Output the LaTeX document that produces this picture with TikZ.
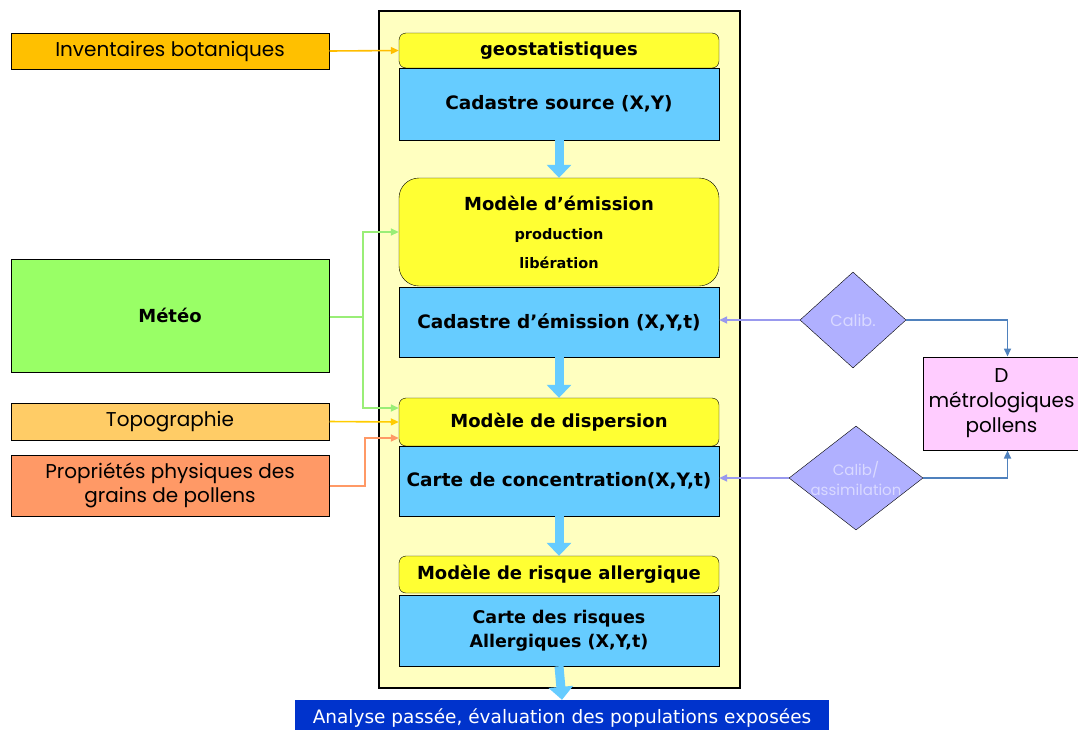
\documentclass[tikz,border=0pt]{standalone}
\usepackage{fontspec}
\setmainfont{DejaVu Sans}
\newfontfamily\geo{Poppins}
\usetikzlibrary{arrows.meta,shapes.geometric,calc}
\definecolor{panelY}{HTML}{FFFFC0}
\definecolor{modY}{HTML}{FFFF33}
\definecolor{cadB}{HTML}{66CCFF}
\definecolor{invO}{HTML}{FFC000}
\definecolor{meteoG}{HTML}{99FF66}
\definecolor{topoO}{HTML}{FFCC66}
\definecolor{propO}{HTML}{FF9966}
\definecolor{diaB}{HTML}{B0B0FF}
\definecolor{pinkB}{HTML}{FFCCFF}
\definecolor{anaB}{HTML}{0033CC}
\definecolor{lineG}{HTML}{99EE77}
\definecolor{lineY}{HTML}{FFCC00}
\definecolor{lineS}{HTML}{FF9966}
\definecolor{lineL}{HTML}{9999EE}
\definecolor{lineSB}{HTML}{4F81BD}
\tikzset{
  modbox/.style={draw=black, fill=modY, rounded corners=7pt, minimum width=320pt, font=\bfseries\fontsize{18}{21}\selectfont, inner sep=0pt, align=center},
  cadbox/.style={draw=black, fill=cadB, minimum width=320pt, font=\bfseries\fontsize{18.5}{24}\selectfont, inner sep=0pt, align=center},
  inbox/.style={draw=black, line width=1pt, minimum width=318pt, font=\geo\fontsize{20}{24}\selectfont, inner sep=0pt, align=center},
  diam/.style={diamond, draw=black, fill=diaB, inner sep=0pt},
  diamtext/.style={inner sep=0pt, align=center, text=white!85!blue},
  bigarrow/.style={draw=cadB, line width=9pt, -{Triangle[width=24pt,length=13pt]}},
  thin/.style={line width=1.6pt, -{Triangle[width=7pt,length=8pt]}},
}
\begin{document}
\begin{tikzpicture}[x=1pt,y=-1pt]
\useasboundingbox (0,0) rectangle (1078,729);
\node[draw=black, line width=1.2pt, fill=panelY, minimum width=361pt, minimum height=677pt, inner sep=0pt] (panel) at (559.5,349.5) {};
% inner chain
\node[modbox, minimum height=35pt] (geo) at (559,50.5) {geostatistiques};
\node[cadbox, minimum height=72pt] (cs) at (559,104) {Cadastre source (X,Y)};
\node[modbox, rounded corners=20pt, minimum height=108pt, font=\bfseries\fontsize{18}{29}\selectfont] (me) at (559,232) {Modèle d’émission\\{\fontsize{14.5}{29}\selectfont production}\\{\fontsize{14.5}{27}\selectfont libération}};
\node[cadbox, minimum height=70pt] (ce) at (559,322) {Cadastre d’émission (X,Y,t)};
\node[modbox, minimum height=48pt] (md) at (559,422) {Modèle de dispersion};
\node[cadbox, minimum height=70pt] (cc) at (559,481) {Carte de concentration(X,Y,t)};
\node[modbox, minimum height=37pt] (mr) at (559,574.5) {Modèle de risque allergique};
\node[cadbox, minimum height=71pt, font=\bfseries\fontsize{17.5}{24}\selectfont] (cr) at (559,630.5) {Carte des risques\\Allergiques (X,Y,t)};
\node[fill=anaB, minimum width=534pt, minimum height=36pt, inner sep=0pt, text=white, font=\fontsize{18.5}{20}\selectfont] (an) at (562,718) {Analyse passée, évaluation des populations exposées};
% inputs
\node[inbox, fill=invO, minimum height=36pt] (inv) at (170,51) {Inventaires botaniques};
\node[inbox, fill=meteoG, minimum height=113pt, font=\bfseries\fontsize{18}{21}\selectfont] (meteo) at (170,315.5) {Météo};
\node[inbox, fill=topoO, minimum height=37pt] (topo) at (170,421.5) {Topographie};
\node[inbox, fill=propO, minimum height=61pt] (prop) at (170,485.5) {Propriétés physiques des\\grains de pollens};
% right side
\node[diam, minimum width=106pt, minimum height=96pt] (calib) at (853,320) {};
\node[diamtext, font=\geo\fontsize{16}{18}\selectfont] (calibt) at (calib) {Calib.};
\node[diam, minimum width=134pt, minimum height=104pt] (calass) at (856,478) {};
\node[diamtext, font=\geo\fontsize{15}{20}\selectfont] (calasst) at (calass) {Calib/\\assimilation};
\node[draw=black, line width=1pt, fill=pinkB, minimum width=157pt, minimum height=93pt, inner sep=0pt, align=center, font=\geo\fontsize{20}{25}\selectfont] (dm) at (1001.5,403.5) {D\\métrologiques\\pollens};
% big arrows
\draw[bigarrow] (cs.south) -- (me.north);
\draw[bigarrow] (ce.south) -- (md.north);
\draw[bigarrow] (cc.south) -- (mr.north);
\draw[bigarrow] (cr.south) -- (an.north);
% thin connectors
\draw[thin, draw=lineY!80!orange, -{Triangle[width=7pt,length=8pt,fill=lineY]}] (inv.east) -- (geo.west);
\coordinate (gj) at (363,317);
\draw[line width=1.6pt, lineG] (meteo.east |- gj) -- (gj);
\draw[thin, lineG] (gj) |- (me.west);
\draw[thin, lineG] (gj) |- ($(md.west)+(0,-14)$);
\draw[thin, lineY] (topo.east) -- (md.west);
\coordinate (pj) at (365,486);
\draw[thin, lineS] (prop.east |- pj) -- (pj) |- ($(md.west)+(0,16)$);
\draw[thin, lineL] (calib.west) -- (calib.west -| ce.east);
\draw[thin, lineL] (calass.west) -- (calass.west -| cc.east);
\coordinate (dmt) at ($(dm.north)+(6,0)$);
\coordinate (dmb) at ($(dm.south)+(6,0)$);
\draw[thin, lineSB] (calib.east) -| (dmt);
\draw[thin, lineSB] (calass.east) -| (dmb);
\end{tikzpicture}
\end{document}
